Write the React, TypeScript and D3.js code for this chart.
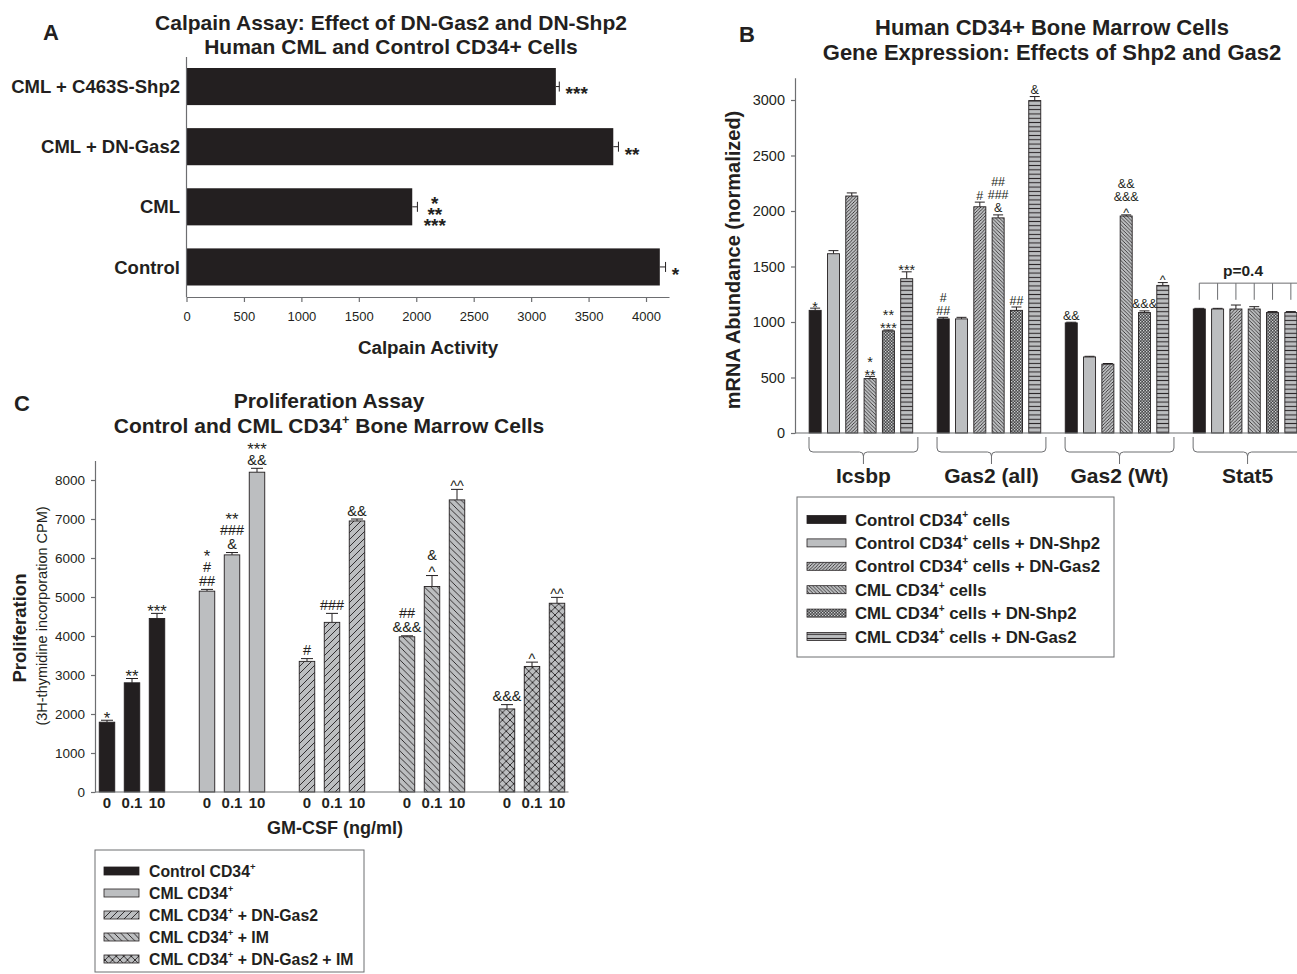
import { useEffect, useRef } from 'react';
import * as d3 from 'd3';

const INK = '#231f20';
const AXIS = '#6d6e71';
const GRAY = '#bcbec0';
const FONT = '"Liberation Sans", Arial, Helvetica, sans-serif';

// ---- Panel A: calpain assay ----
const calpainLabels = ['CML + C463S-Shp2', 'CML + DN-Gas2', 'CML', 'Control'];
const calpainValues = [3215, 3715, 1965, 4120];
const calpainErrors = [30, 45, 45, 50];
const calpainStars = [['***'], ['**'], ['*', '**', '***'], ['*']];
const calpainTicks = [0, 500, 1000, 1500, 2000, 2500, 3000, 3500, 4000];

// ---- Panel B: gene expression ----
const genes = ['Icsbp', 'Gas2 (all)', 'Gas2 (Wt)', 'Stat5'];
const geneSeries = [
  'Control CD34+ cells',
  'Control CD34+ cells + DN-Shp2',
  'Control CD34+ cells + DN-Gas2',
  'CML CD34+ cells',
  'CML CD34+ cells + DN-Shp2',
  'CML CD34+ cells + DN-Gas2',
];
const icsbpValues = [1105, 1615, 2135, 490, 920, 1390];
const icsbpErrors = [20, 28, 28, 20, 8, 62];
const icsbpMarks = [['*'], [], [], ['*', '**'], ['**', '***'], ['***']];
const gas2AllValues = [1028, 1028, 2038, 1938, 1105, 2995];
const gas2AllErrors = [14, 14, 42, 27, 30, 36];
const gas2AllMarks = [['#', '##'], [], ['#'], ['##', '###', '&'], ['##'], ['&']];
const gas2WtValues = [992, 685, 620, 1955, 1085, 1330];
const gas2WtErrors = [6, 6, 6, 10, 15, 25];
const gas2WtMarks = [['&&'], [], [], ['&&', '&&&', '^'], ['&&&'], ['^']];
const stat5Values = [1117, 1117, 1117, 1117, 1085, 1085];
const stat5Errors = [6, 6, 36, 21, 9, 9];
const stat5Marks = [[], [], [], [], [], []];
const stat5Bracket = [1350, 1200]; // top / foot of the p-value bracket
const stat5Note = 'p=0.4';
const mrnaTicks = [0, 500, 1000, 1500, 2000, 2500, 3000];

// ---- Panel C: proliferation ----
const doses = ['0', '0.1', '10'];
const prolifSeries = ['Control CD34+', 'CML CD34+', 'CML CD34+ + DN-Gas2', 'CML CD34+ + IM', 'CML CD34+ + DN-Gas2 + IM'];
const controlProlif = [1790, 2800, 4450];
const controlProlifErr = [50, 110, 130];
const controlProlifMarks = [['*'], ['**'], ['***']];
const cmlProlif = [5150, 6080, 8200];
const cmlProlifErr = [45, 60, 100];
const cmlProlifMarks = [['*', '#', '##'], ['**', '###', '&'], ['***', '&&']];
const cmlGas2Prolif = [3350, 4350, 6950];
const cmlGas2ProlifErr = [70, 230, 50];
const cmlGas2ProlifMarks = [['#'], ['###'], ['&&']];
const cmlImProlif = [3980, 5270, 7490];
const cmlImProlifErr = [25, 280, 270];
const cmlImProlifMarks = [['##', '&&&'], ['&', '^'], ['^^']];
const cmlGas2ImProlif = [2130, 3220, 4840];
const cmlGas2ImProlifErr = [110, 110, 150];
const cmlGas2ImProlifMarks = [['&&&'], ['^'], ['^^']];
const prolifTicks = [0, 1000, 2000, 3000, 4000, 5000, 6000, 7000, 8000];

const fillsB = [INK, GRAY, 'url(#b-up)', 'url(#b-down)', 'url(#b-check)', 'url(#b-horiz)'];
const fillsC = [INK, GRAY, 'url(#c-up)', 'url(#c-down)', 'url(#c-cross)'];

type Sel = d3.Selection<any, unknown, null, undefined>;

// visual centre offset (k) and visual height (vh) of a mark glyph, in em
function glyph(s: string) {
  if (s[0] === '*') return { k: 0.57, vh: 0.32, scale: 1.15 };
  if (s[0] === '^') return { k: 0.53, vh: 0.36, scale: 1 };
  return { k: 0.36, vh: 0.72, scale: 1 };
}

// stack significance marks above a bar top (lines listed top to bottom), one text element
function marksAbove(g: Sel, lines: string[], x: number, yTop: number, fs: number, lh: number, pad: number) {
  const n = lines.length;
  if (!n) return;
  const last = glyph(lines[n - 1]);
  const cBottom = yTop - pad - (last.vh * fs * last.scale) / 2;
  const t = g.append('text').attr('text-anchor', 'middle').attr('fill', INK).attr('font-size', fs);
  lines.forEach((s, i) => {
    const gl = glyph(s);
    const f = fs * gl.scale;
    const c = cBottom - (n - 1 - i) * lh;
    t.append('tspan').attr('x', x).attr('y', c + gl.k * f).attr('font-size', f).text(s);
  });
}

function supText(t: Sel, label: string, fs: number) {
  const parts = label.split('CD34+');
  parts.forEach((p, i) => {
    if (i > 0) {
      t.append('tspan').text('CD34');
      t.append('tspan').attr('font-size', fs * 0.6).attr('dy', -fs * 0.42).text('+');
      t.append('tspan').attr('dy', fs * 0.42).text(p);
    } else if (p) {
      t.append('tspan').text(p);
    }
  });
}

function hatch(defs: Sel, id: string, s: number, kind: string, sw: number) {
  const p = defs.append('pattern').attr('id', id).attr('patternUnits', 'userSpaceOnUse').attr('width', s).attr('height', s);
  p.append('rect').attr('width', s).attr('height', s).attr('fill', GRAY);
  const up = `M-1,1 L1,-1 M0,${s} L${s},0 M${s - 1},${s + 1} L${s + 1},${s - 1}`;
  const down = `M-1,${s - 1} L1,${s + 1} M0,0 L${s},${s} M${s - 1},-1 L${s + 1},1`;
  let d = '';
  if (kind === 'up') d = up;
  if (kind === 'down') d = down;
  if (kind === 'cross') d = up + ' ' + down;
  if (kind === 'horiz') d = `M0,${s / 2} L${s},${s / 2}`;
  p.append('path').attr('d', d).attr('stroke', INK).attr('stroke-width', sw).attr('fill', 'none');
}

function makePatterns(defs: Sel) {
  hatch(defs, 'b-up', 3.3, 'up', 0.8);
  hatch(defs, 'b-down', 3.6, 'down', 0.8);
  hatch(defs, 'b-horiz', 4.3, 'horiz', 1);
  const ck = defs.append('pattern').attr('id', 'b-check').attr('patternUnits', 'userSpaceOnUse').attr('width', 3).attr('height', 3);
  ck.append('rect').attr('width', 3).attr('height', 3).attr('fill', '#48484a');
  ck.append('rect').attr('width', 1.3).attr('height', 1.3).attr('fill', '#d1d3d4');
  ck.append('rect').attr('x', 1.5).attr('y', 1.5).attr('width', 1.3).attr('height', 1.3).attr('fill', '#d1d3d4');
  hatch(defs, 'c-up', 7, 'up', 0.9);
  hatch(defs, 'c-down', 6.5, 'down', 0.9);
  hatch(defs, 'c-cross', 7.5, 'cross', 0.9);
}

function styleAxis(g: Sel, fs: number) {
  g.attr('font-family', FONT).attr('font-size', fs);
  g.selectAll('.domain').attr('stroke', AXIS).attr('stroke-width', 1.2);
  g.selectAll('.tick line').attr('stroke', AXIS).attr('stroke-width', 1.2);
  g.selectAll('.tick text').attr('fill', INK);
}

const plain = d3.format('d');

function drawA(g: Sel) {
  const x = d3.scaleLinear().domain([0, 4200]).range([186.5, 669]);
  const y = d3.scaleBand().domain(calpainLabels).range([68, 285.5]).paddingInner(0.383).paddingOuter(0);

  g.append('text').attr('x', 51).attr('y', 39.5).attr('text-anchor', 'middle').attr('font-size', 22).attr('font-weight', 'bold').attr('fill', INK).text('A');
  g.append('text').attr('x', 391).attr('y', 30).attr('text-anchor', 'middle').attr('font-size', 21).attr('font-weight', 'bold').attr('fill', INK)
    .text('Calpain Assay: Effect of DN-Gas2 and DN-Shp2');
  g.append('text').attr('x', 391).attr('y', 54).attr('text-anchor', 'middle').attr('font-size', 21).attr('font-weight', 'bold').attr('fill', INK)
    .text('Human CML and Control CD34+ Cells');

  calpainLabels.forEach((lab, i) => {
    const yc = y(lab)! + y.bandwidth() / 2;
    const v = calpainValues[i];
    const e = calpainErrors[i];
    g.append('rect').attr('x', x(0)).attr('y', y(lab)!).attr('width', x(v) - x(0)).attr('height', y.bandwidth()).attr('fill', INK);
    g.append('line').attr('x1', x(v)).attr('x2', x(v + e)).attr('y1', yc).attr('y2', yc).attr('stroke', INK);
    g.append('line').attr('x1', x(v + e)).attr('x2', x(v + e)).attr('y1', yc - 5).attr('y2', yc + 5).attr('stroke', INK);
    g.append('text').attr('x', 180).attr('y', yc + 6.6).attr('text-anchor', 'end').attr('font-size', 18.5).attr('font-weight', 'bold').attr('fill', INK).text(lab);
    const stars = calpainStars[i];
    const maxLen = d3.max(stars, (s) => s.length)!;
    const fs = 19;
    const sx = x(v + e) + 6 + maxLen * 3.8;
    const t = g.append('text').attr('text-anchor', 'middle').attr('font-size', fs).attr('font-weight', 'bold').attr('fill', INK);
    stars.forEach((s, j) => {
      const c = yc + 3 + (j - (stars.length - 1) / 2) * 11;
      t.append('tspan').attr('x', sx).attr('y', c + 0.57 * fs).text(s);
    });
  });

  g.append('line').attr('x1', 186.5).attr('x2', 186.5).attr('y1', 57).attr('y2', 297).attr('stroke', AXIS).attr('stroke-width', 1.2);
  const ax = g.append('g').attr('transform', 'translate(0,297)')
    .call(d3.axisBottom(x).tickValues(calpainTicks).tickFormat(plain as any).tickSize(5).tickSizeOuter(0).tickPadding(10));
  styleAxis(ax, 13);
  g.append('text').attr('x', 428).attr('y', 354).attr('text-anchor', 'middle').attr('font-size', 18.8).attr('font-weight', 'bold').attr('fill', INK).text('Calpain Activity');
}

function drawB(g: Sel) {
  const y = d3.scaleLinear().domain([0, 3200]).range([433, 77.8]);
  const xg = d3.scaleBand().domain(genes).range([806, 1300]).paddingInner(0.142).paddingOuter(0);
  const xs = d3.scaleBand().domain(geneSeries).range([0, xg.bandwidth()]).paddingInner(0.344).paddingOuter(0.172);
  const rows = [icsbpValues, gas2AllValues, gas2WtValues, stat5Values];
  const errs = [icsbpErrors, gas2AllErrors, gas2WtErrors, stat5Errors];
  const marks = [icsbpMarks, gas2AllMarks, gas2WtMarks, stat5Marks];

  g.append('text').attr('x', 747).attr('y', 41.5).attr('text-anchor', 'middle').attr('font-size', 22).attr('font-weight', 'bold').attr('fill', INK).text('B');
  g.append('text').attr('x', 1052).attr('y', 34.5).attr('text-anchor', 'middle').attr('font-size', 22).attr('font-weight', 'bold').attr('fill', INK)
    .text('Human CD34+ Bone Marrow Cells');
  g.append('text').attr('x', 1052).attr('y', 60).attr('text-anchor', 'middle').attr('font-size', 22).attr('font-weight', 'bold').attr('fill', INK)
    .text('Gene Expression: Effects of Shp2 and Gas2');

  genes.forEach((gene, gi) => {
    const gx = xg(gene)!;
    geneSeries.forEach((s, si) => {
      const v = rows[gi][si];
      const e = errs[gi][si];
      const bx = gx + xs(s)!;
      const cx = bx + xs.bandwidth() / 2;
      g.append('line').attr('x1', cx).attr('x2', cx).attr('y1', y(v)).attr('y2', y(v + e)).attr('stroke', INK);
      g.append('line').attr('x1', cx - 5).attr('x2', cx + 5).attr('y1', y(v + e)).attr('y2', y(v + e)).attr('stroke', INK);
      g.append('rect').attr('x', bx).attr('y', y(v)).attr('width', xs.bandwidth()).attr('height', y(0) - y(v))
        .attr('fill', fillsB[si]).attr('stroke', INK).attr('stroke-width', 0.9);
      marksAbove(g, marks[gi][si], cx, y(v + e), 12.5, 13.2, 2.5);
    });
    // brace under group
    const x0 = gx + 3;
    const x1 = gx + xg.bandwidth() + 2;
    const bc = (x0 + x1) / 2;
    const yt = 437, ym = 452, yk = 464, r = 4;
    const d = `M${x0},${yt} L${x0},${ym - r} Q${x0},${ym} ${x0 + r},${ym} L${bc - r},${ym} Q${bc},${ym} ${bc},${ym + r} L${bc},${yk}`
      + ` M${bc},${ym + r} Q${bc},${ym} ${bc + r},${ym} L${x1 - r},${ym} Q${x1},${ym} ${x1},${ym - r} L${x1},${yt}`;
    g.append('path').attr('d', d).attr('fill', 'none').attr('stroke', AXIS).attr('stroke-width', 1);
    g.append('text').attr('x', bc).attr('y', 482.5).attr('text-anchor', 'middle').attr('font-size', 21).attr('font-weight', 'bold').attr('fill', INK).text(gene);
  });

  // p-value bracket over Stat5
  const sg = xg('Stat5')!;
  const centers = geneSeries.map((s) => sg + xs(s)! + xs.bandwidth() / 2);
  g.append('line').attr('x1', centers[0]).attr('x2', 1297).attr('y1', y(stat5Bracket[0])).attr('y2', y(stat5Bracket[0])).attr('stroke', AXIS);
  centers.forEach((c) => {
    g.append('line').attr('x1', c).attr('x2', c).attr('y1', y(stat5Bracket[0])).attr('y2', y(stat5Bracket[1])).attr('stroke', AXIS);
  });
  g.append('text').attr('x', 1243).attr('y', y(stat5Bracket[0]) - 7).attr('text-anchor', 'middle').attr('font-size', 15.5).attr('font-weight', 'bold').attr('fill', INK).text(stat5Note);

  const ay = g.append('g').attr('transform', 'translate(795,0)')
    .call(d3.axisLeft(y).tickValues(mrnaTicks).tickFormat(plain as any).tickSize(4).tickSizeOuter(0).tickPadding(6));
  styleAxis(ay, 14.5);
  g.append('line').attr('x1', 795).attr('x2', 1297).attr('y1', 433).attr('y2', 433).attr('stroke', AXIS).attr('stroke-width', 1.2);
  g.append('text').attr('transform', 'translate(740,260) rotate(-90)').attr('text-anchor', 'middle').attr('font-size', 20).attr('font-weight', 'bold').attr('fill', INK)
    .text('mRNA Abundance (normalized)');

  // legend
  g.append('rect').attr('x', 797).attr('y', 497).attr('width', 317).attr('height', 160).attr('fill', 'none').attr('stroke', AXIS).attr('stroke-width', 1);
  geneSeries.forEach((s, i) => {
    const ry = 519.5 + i * 23.4;
    g.append('rect').attr('x', 807).attr('y', ry - 4).attr('width', 39).attr('height', 8).attr('fill', fillsB[i]).attr('stroke', INK).attr('stroke-width', 0.8);
    const t = g.append('text').attr('x', 855).attr('y', ry + 6).attr('font-size', 16.8).attr('font-weight', 'bold').attr('fill', INK);
    supText(t, s, 16.8);
  });
}

function drawC(g: Sel) {
  const y = d3.scaleLinear().domain([0, 8500]).range([792, 460.5]);
  const xg = d3.scaleBand().domain(prolifSeries).range([94.5, 569.5]).paddingInner(0.25).paddingOuter(0);
  const xd = d3.scaleBand().domain(doses).range([0, xg.bandwidth()]).paddingInner(0.38).paddingOuter(0.19);
  const rows = [controlProlif, cmlProlif, cmlGas2Prolif, cmlImProlif, cmlGas2ImProlif];
  const errs = [controlProlifErr, cmlProlifErr, cmlGas2ProlifErr, cmlImProlifErr, cmlGas2ImProlifErr];
  const marks = [controlProlifMarks, cmlProlifMarks, cmlGas2ProlifMarks, cmlImProlifMarks, cmlGas2ImProlifMarks];

  g.append('text').attr('x', 22).attr('y', 411).attr('text-anchor', 'middle').attr('font-size', 22).attr('font-weight', 'bold').attr('fill', INK).text('C');
  g.append('text').attr('x', 329).attr('y', 407.5).attr('text-anchor', 'middle').attr('font-size', 21).attr('font-weight', 'bold').attr('fill', INK).text('Proliferation Assay');
  const t2 = g.append('text').attr('x', 329).attr('y', 432.5).attr('text-anchor', 'middle').attr('font-size', 21).attr('font-weight', 'bold').attr('fill', INK);
  supText(t2, 'Control and CML CD34+ Bone Marrow Cells', 21);

  prolifSeries.forEach((s, si) => {
    const gx = xg(s)!;
    doses.forEach((dose, di) => {
      const v = rows[si][di];
      const e = errs[si][di];
      const bx = gx + xd(dose)!;
      const cx = bx + xd.bandwidth() / 2;
      g.append('line').attr('x1', cx).attr('x2', cx).attr('y1', y(v)).attr('y2', y(v + e)).attr('stroke', INK);
      g.append('line').attr('x1', cx - 6).attr('x2', cx + 6).attr('y1', y(v + e)).attr('y2', y(v + e)).attr('stroke', INK);
      g.append('rect').attr('x', bx).attr('y', y(v)).attr('width', xd.bandwidth()).attr('height', y(0) - y(v))
        .attr('fill', fillsC[si]).attr('stroke', INK).attr('stroke-width', 0.9);
      marksAbove(g, marks[si][di], cx, y(v + e), 14.5, 14.2, 3.5);
      g.append('text').attr('x', cx).attr('y', 807.5).attr('text-anchor', 'middle').attr('font-size', 15).attr('font-weight', 'bold').attr('fill', INK).text(dose);
    });
  });

  const ay = g.append('g').attr('transform', 'translate(95,0)')
    .call(d3.axisLeft(y).tickValues(prolifTicks).tickFormat(plain as any).tickSize(4).tickSizeOuter(0).tickPadding(6));
  styleAxis(ay, 13.5);
  g.append('line').attr('x1', 95).attr('x2', 568.5).attr('y1', 792).attr('y2', 792).attr('stroke', AXIS).attr('stroke-width', 1.2);

  g.append('text').attr('x', 335).attr('y', 833.5).attr('text-anchor', 'middle').attr('font-size', 18).attr('font-weight', 'bold').attr('fill', INK).text('GM-CSF (ng/ml)');
  g.append('text').attr('transform', 'translate(26,628) rotate(-90)').attr('text-anchor', 'middle').attr('font-size', 18.5).attr('font-weight', 'bold').attr('fill', INK).text('Proliferation');
  g.append('text').attr('transform', 'translate(47,616) rotate(-90)').attr('text-anchor', 'middle').attr('font-size', 14.5).attr('fill', INK).text('(3H-thymidine incorporation CPM)');

  // legend
  g.append('rect').attr('x', 95).attr('y', 850).attr('width', 269).attr('height', 122).attr('fill', 'none').attr('stroke', AXIS).attr('stroke-width', 1);
  prolifSeries.forEach((s, i) => {
    const ry = 871 + i * 22;
    g.append('rect').attr('x', 104).attr('y', ry - 4).attr('width', 35).attr('height', 8).attr('fill', fillsC[i]).attr('stroke', INK).attr('stroke-width', 0.8);
    const t = g.append('text').attr('x', 149).attr('y', ry + 5.6).attr('font-size', 15.8).attr('font-weight', 'bold').attr('fill', INK);
    supText(t, s, 15.8);
  });
}

export default function App() {
  const ref = useRef<SVGSVGElement>(null);

  useEffect(() => {
    const svg = d3.select(ref.current);
    svg.selectAll('*').remove();
    makePatterns(svg.append('defs'));
    drawA(svg.append('g'));
    drawB(svg.append('g'));
    drawC(svg.append('g'));
  }, []);

  return (
    <svg
      ref={ref}
      width={1297}
      height={974}
      fontFamily={FONT}
      style={{ position: 'absolute', left: 0, top: 0, background: '#fff' }}
    />
  );
}
